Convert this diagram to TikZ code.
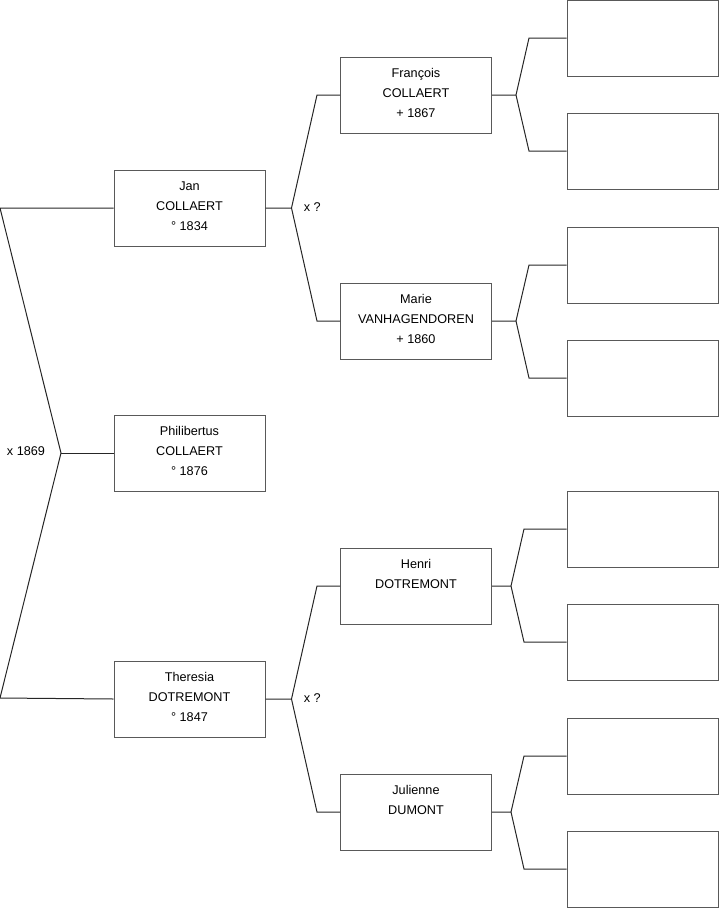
\documentclass[tikz,border=0pt]{standalone}
\usepackage{fontspec}
\setmainfont{Liberation Sans}
\usetikzlibrary{positioning, calc}
\newcommand{\lowstrut}{\rule[-7.5pt]{0pt}{7.5pt}}
\tikzset{
    person/.style={rectangle, draw=black!65, line width=0.75pt, inner sep=0pt, minimum width=113.25pt, minimum height=57pt, align=center, font=\fontsize{9.5}{15}\selectfont},
    link/.style={line width=0.75pt, black!85},
    marriage/.style={font=\fontsize{9.5}{11}\selectfont, inner sep=0pt}
}

\begin{document}
\begin{tikzpicture}[x=0.75pt, y=-0.75pt]
    \useasboundingbox (0,0) rectangle (719,908);

    % generation 1 and 2
    \node (jan)      [person] at (189.5,208) {\strut Jan\\\strut COLLAERT\\\strut\lowstrut ° 1834};
    \node (phil)     [person] at (189.5,453) {\strut Philibertus\\\strut COLLAERT\\\strut\lowstrut ° 1876};
    \node (theresia) [person] at (189.5,699) {\strut Theresia\\\strut DOTREMONT\\\strut\lowstrut ° 1847};

    % generation 3
    \node (francois) [person] at (416,95)  {\strut François\\\strut COLLAERT\\\strut\lowstrut + 1867};
    \node (marie)    [person] at (416,321) {\strut Marie\\\strut VANHAGENDOREN\\\strut\lowstrut + 1860};
    \node (henri)    [person] at (416,586) {\strut Henri\\\strut DOTREMONT\\\strut\lowstrut};
    \node (julienne) [person] at (416,812) {\strut Julienne\\\strut DUMONT\\\strut\lowstrut};

    % generation 4 (empty)
    \foreach \n/\y in {r1/38, r2/151, r3/265, r4/378, r5/529, r6/642, r7/756, r8/869}
        \node (\n) [person] at (642.5,\y) {};

    % parents of Philibertus
    \coordinate (ltop) at (0,208);
    \coordinate (lmid) at (61,453);
    \coordinate (lbot) at (0,698);
    \draw [link] (jan.west) -- (ltop) -- (lmid) -- (lbot) -- (theresia.west);
    \draw [link] (lmid) -- (phil.west);
    \node (m1) [marriage] at (26,451) {x 1869};

    % parents of Jan and Theresia
    \foreach \c/\a/\b/\m in {jan/francois/marie/m2, theresia/henri/julienne/m3} {
        \coordinate (fk) at ($(\c.east)+(26,0)$);
        \coordinate (fe) at ($(\a.west)+(-23,0)$);
        \draw [link] (\c.east) -- (fk) -- (fe) -- (\a.west);
        \draw [link] (fk) -- (fe |- \b.west) -- (\b.west);
        \node (\m) [marriage, anchor=west] at ($(fk)+(12,-1)$) {x ?};
    }

    % grandparents
    \foreach \p/\a/\b/\s in {francois/r1/r2/24, marie/r3/r4/24, henri/r5/r6/19, julienne/r7/r8/19} {
        \coordinate (fk) at ($(\p.east)+(\s,0)$);
        \coordinate (fe) at ($(fk)+(13,0)$);
        \draw [link] (\p.east) -- (fk) -- (fe |- \a.west) -- (\a.west);
        \draw [link] (fk) -- (fe |- \b.west) -- (\b.west);
    }
\end{tikzpicture}
\end{document}
